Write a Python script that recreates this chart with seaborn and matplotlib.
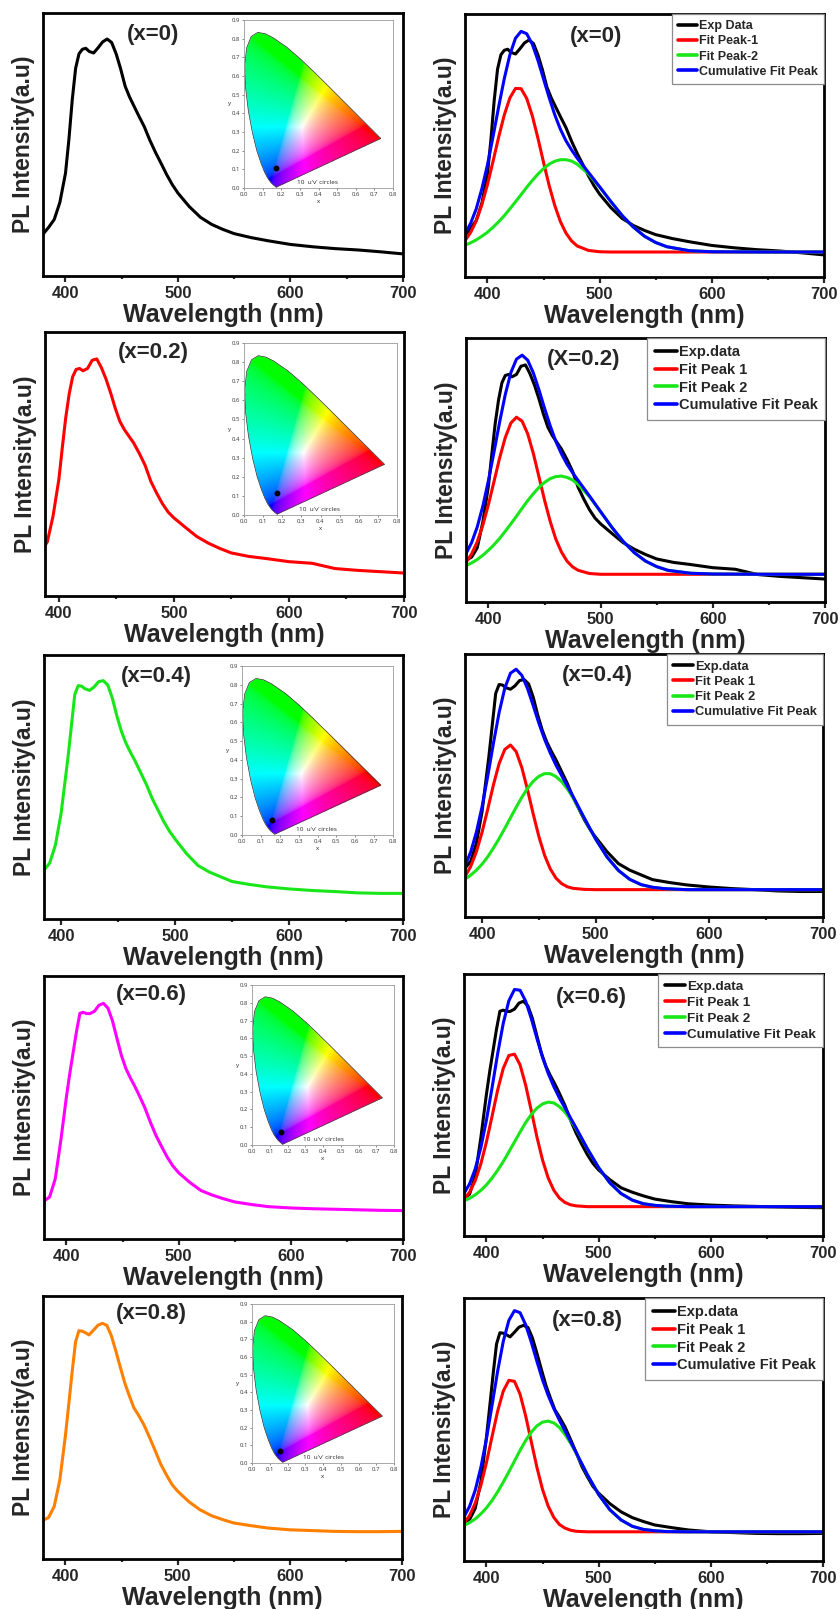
import numpy as np
import matplotlib
matplotlib.use("Agg")
import matplotlib.pyplot as plt
from matplotlib.path import Path
from matplotlib.ticker import MultipleLocator
import seaborn as sns

sns.set_style("white")
plt.rcParams.update({
    "font.family": ["Liberation Sans", "DejaVu Sans"],
    "font.weight": "bold",
    "axes.linewidth": 2.0,
    "axes.edgecolor": "black",
})

# ── data ─────────────────────────────────────────
SAMPLES = ["(x=0)", "(x=0.2)", "(x=0.4)", "(x=0.6)", "(x=0.8)"]
SAMPLES_FIT = ["(x=0)", "(X=0.2)", "(x=0.4)", "(x=0.6)", "(x=0.8)"]
PL_COLORS = ["#000000", "#FF0000", "#19E619", "#FF00FF", "#FF8000"]

LEGEND_FIRST = ["Exp Data", "Fit Peak-1", "Fit Peak-2", "Cumulative Fit Peak"]
LEGEND_REST = ["Exp.data", "Fit Peak 1", "Fit Peak 2", "Cumulative Fit Peak"]

# measured PL spectra (a.u.)
WL_EXP = [380, 385, 390, 395, 400, 403, 406, 409, 412, 415, 418, 421, 425, 429,
          433, 437, 441, 445, 449, 453, 457, 461, 465, 470, 475, 480, 485, 490,
          495, 500, 510, 520, 530, 540, 550, 565, 580, 600, 620, 640, 660, 680, 700]
PL_X0 = [0.159, 0.185, 0.215, 0.280, 0.391, 0.518, 0.670, 0.790, 0.845, 0.862, 0.866,
         0.854, 0.848, 0.868, 0.890, 0.901, 0.888, 0.845, 0.788, 0.722, 0.680, 0.645,
         0.610, 0.568, 0.516, 0.470, 0.428, 0.385, 0.347, 0.315, 0.264, 0.223, 0.196,
         0.177, 0.161, 0.146, 0.134, 0.120, 0.111, 0.104, 0.099, 0.092, 0.084]
PL_X02 = [0.158, 0.170, 0.205, 0.303, 0.440, 0.560, 0.675, 0.765, 0.830, 0.858, 0.862,
          0.853, 0.862, 0.893, 0.898, 0.865, 0.822, 0.770, 0.712, 0.662, 0.630, 0.605,
          0.580, 0.540, 0.495, 0.434, 0.390, 0.350, 0.318, 0.296, 0.260, 0.225, 0.200,
          0.180, 0.163, 0.150, 0.142, 0.130, 0.124, 0.104, 0.097, 0.092, 0.087]
PL_X04 = [0.170, 0.185, 0.212, 0.280, 0.400, 0.505, 0.610, 0.730, 0.850, 0.884, 0.882,
          0.872, 0.866, 0.879, 0.899, 0.903, 0.886, 0.836, 0.768, 0.710, 0.665, 0.630,
          0.598, 0.553, 0.508, 0.456, 0.413, 0.370, 0.333, 0.303, 0.248, 0.203, 0.178,
          0.160, 0.142, 0.131, 0.122, 0.114, 0.108, 0.104, 0.099, 0.097, 0.097]
PL_X06 = [0.144, 0.160, 0.228, 0.375, 0.541, 0.630, 0.710, 0.790, 0.858, 0.862, 0.857,
          0.857, 0.866, 0.889, 0.896, 0.878, 0.830, 0.763, 0.698, 0.648, 0.612, 0.580,
          0.545, 0.498, 0.442, 0.392, 0.350, 0.310, 0.277, 0.252, 0.215, 0.184, 0.167,
          0.153, 0.141, 0.131, 0.123, 0.118, 0.115, 0.113, 0.111, 0.109, 0.108]
PL_X08 = [0.147, 0.158, 0.200, 0.300, 0.470, 0.590, 0.712, 0.825, 0.868, 0.866, 0.860,
          0.852, 0.870, 0.889, 0.896, 0.888, 0.848, 0.790, 0.728, 0.668, 0.620, 0.575,
          0.548, 0.510, 0.462, 0.412, 0.360, 0.320, 0.283, 0.258, 0.218, 0.187, 0.165,
          0.150, 0.137, 0.127, 0.118, 0.111, 0.108, 0.105, 0.104, 0.104, 0.105]
PL_ALL = [PL_X0, PL_X02, PL_X04, PL_X06, PL_X08]

# gaussian fit components
WL_FIT = [380, 385, 390, 395, 400, 405, 410, 415, 420, 425, 430, 435, 440, 445, 450,
          455, 460, 465, 470, 475, 480, 490, 500, 510, 520, 530, 540, 550, 560, 580,
          600, 650, 700]
PEAK1_X0 = [0.138, 0.169, 0.213, 0.275, 0.351, 0.440, 0.532, 0.616, 0.681, 0.717, 0.716,
            0.679, 0.613, 0.528, 0.436, 0.348, 0.272, 0.211, 0.167, 0.137, 0.118, 0.101,
            0.096, 0.095, 0.095, 0.095, 0.095, 0.095, 0.095, 0.095, 0.095, 0.095, 0.095]
PEAK2_X0 = [0.121, 0.130, 0.141, 0.155, 0.170, 0.189, 0.210, 0.233, 0.259, 0.286, 0.313,
            0.341, 0.367, 0.391, 0.412, 0.429, 0.440, 0.446, 0.446, 0.441, 0.429, 0.392,
            0.342, 0.287, 0.234, 0.190, 0.155, 0.131, 0.115, 0.100, 0.096, 0.095, 0.095]
CUM_X0 = [0.164, 0.204, 0.259, 0.335, 0.426, 0.534, 0.647, 0.754, 0.845, 0.908, 0.934,
          0.925, 0.885, 0.824, 0.753, 0.682, 0.617, 0.562, 0.518, 0.483, 0.452, 0.398,
          0.343, 0.287, 0.234, 0.190, 0.155, 0.131, 0.115, 0.100, 0.096, 0.095, 0.095]

PEAK1_X02 = [0.150, 0.182, 0.228, 0.291, 0.369, 0.457, 0.546, 0.623, 0.678, 0.700, 0.685,
             0.637, 0.563, 0.475, 0.386, 0.306, 0.239, 0.190, 0.155, 0.133, 0.120, 0.108,
             0.105, 0.105, 0.105, 0.105, 0.105, 0.105, 0.105, 0.105, 0.105, 0.105, 0.105]
PEAK2_X02 = [0.138, 0.148, 0.161, 0.177, 0.196, 0.217, 0.241, 0.268, 0.296, 0.325, 0.355,
             0.384, 0.410, 0.434, 0.453, 0.467, 0.475, 0.477, 0.472, 0.462, 0.445, 0.399,
             0.342, 0.283, 0.230, 0.187, 0.155, 0.134, 0.120, 0.109, 0.106, 0.105, 0.105]
CUM_X02 = [0.183, 0.225, 0.284, 0.363, 0.460, 0.569, 0.682, 0.786, 0.869, 0.920, 0.935,
           0.916, 0.868, 0.804, 0.734, 0.668, 0.609, 0.562, 0.522, 0.490, 0.460, 0.402,
           0.342, 0.283, 0.230, 0.187, 0.155, 0.134, 0.120, 0.109, 0.106, 0.105, 0.105]

PEAK1_X04 = [0.130, 0.154, 0.192, 0.248, 0.322, 0.410, 0.502, 0.583, 0.637, 0.654, 0.629,
             0.568, 0.484, 0.392, 0.306, 0.235, 0.183, 0.148, 0.127, 0.115, 0.109, 0.105,
             0.104, 0.104, 0.104, 0.104, 0.104, 0.104, 0.104, 0.104, 0.104, 0.104, 0.104]
PEAK2_X04 = [0.132, 0.144, 0.159, 0.178, 0.201, 0.229, 0.262, 0.298, 0.337, 0.377, 0.417,
             0.455, 0.489, 0.516, 0.535, 0.545, 0.545, 0.534, 0.515, 0.487, 0.454, 0.375,
             0.296, 0.228, 0.177, 0.143, 0.123, 0.113, 0.108, 0.104, 0.104, 0.104, 0.104]
CUM_X04 = [0.158, 0.194, 0.247, 0.322, 0.419, 0.535, 0.660, 0.777, 0.870, 0.927, 0.942,
           0.919, 0.869, 0.804, 0.737, 0.676, 0.624, 0.578, 0.538, 0.498, 0.459, 0.376,
           0.296, 0.228, 0.177, 0.143, 0.123, 0.113, 0.108, 0.104, 0.104, 0.104, 0.104]

PEAK1_X06 = [0.141, 0.167, 0.211, 0.275, 0.359, 0.457, 0.557, 0.640, 0.689, 0.694, 0.653,
             0.575, 0.478, 0.378, 0.290, 0.222, 0.175, 0.145, 0.128, 0.119, 0.115, 0.112,
             0.112, 0.112, 0.112, 0.112, 0.112, 0.112, 0.112, 0.112, 0.112, 0.112, 0.112]
PEAK2_X06 = [0.134, 0.144, 0.157, 0.174, 0.195, 0.221, 0.251, 0.284, 0.321, 0.359, 0.397,
             0.433, 0.464, 0.488, 0.504, 0.511, 0.508, 0.494, 0.473, 0.443, 0.409, 0.333,
             0.261, 0.203, 0.162, 0.137, 0.123, 0.117, 0.114, 0.112, 0.112, 0.112, 0.112]
CUM_X06 = [0.163, 0.199, 0.256, 0.337, 0.442, 0.566, 0.696, 0.812, 0.898, 0.941, 0.938,
           0.896, 0.830, 0.754, 0.682, 0.621, 0.571, 0.527, 0.489, 0.450, 0.412, 0.333,
           0.261, 0.203, 0.162, 0.137, 0.123, 0.117, 0.114, 0.112, 0.112, 0.112, 0.112]

PEAK1_X08 = [0.144, 0.173, 0.220, 0.287, 0.374, 0.473, 0.570, 0.646, 0.687, 0.683, 0.634,
             0.551, 0.453, 0.356, 0.272, 0.209, 0.166, 0.139, 0.125, 0.117, 0.113, 0.111,
             0.111, 0.111, 0.111, 0.111, 0.111, 0.111, 0.111, 0.111, 0.111, 0.111, 0.111]
PEAK2_X08 = [0.135, 0.146, 0.160, 0.179, 0.202, 0.230, 0.263, 0.300, 0.339, 0.380, 0.421,
             0.458, 0.490, 0.514, 0.528, 0.532, 0.525, 0.508, 0.481, 0.448, 0.410, 0.328,
             0.253, 0.195, 0.156, 0.132, 0.120, 0.115, 0.112, 0.111, 0.111, 0.111, 0.111]
CUM_X08 = [0.168, 0.208, 0.269, 0.355, 0.465, 0.592, 0.722, 0.835, 0.915, 0.952, 0.944,
           0.898, 0.832, 0.759, 0.689, 0.630, 0.580, 0.536, 0.495, 0.454, 0.412, 0.328,
           0.253, 0.195, 0.156, 0.132, 0.120, 0.115, 0.112, 0.111, 0.111, 0.111, 0.111]

PEAK1_ALL = [PEAK1_X0, PEAK1_X02, PEAK1_X04, PEAK1_X06, PEAK1_X08]
PEAK2_ALL = [PEAK2_X0, PEAK2_X02, PEAK2_X04, PEAK2_X06, PEAK2_X08]
CUM_ALL = [CUM_X0, CUM_X02, CUM_X04, CUM_X06, CUM_X08]

# CIE 1931 coordinates of each sample
CIE_X = [0.171, 0.173, 0.159, 0.161, 0.156]
CIE_Y = [0.107, 0.117, 0.080, 0.073, 0.066]

# CIE 1931 spectral locus (380 -> 700 nm)
LOCUS_X = [0.1741, 0.1733, 0.1714, 0.1689, 0.1644, 0.1566, 0.1440, 0.1241, 0.1096,
           0.0913, 0.0687, 0.0454, 0.0235, 0.0082, 0.0039, 0.0139, 0.0389, 0.0743,
           0.1142, 0.1547, 0.2296, 0.3016, 0.3731, 0.4441, 0.5125, 0.5752, 0.6270,
           0.6658, 0.6915, 0.7079, 0.7190, 0.7260, 0.7300, 0.7334, 0.7347]
LOCUS_Y = [0.0050, 0.0048, 0.0051, 0.0069, 0.0109, 0.0177, 0.0297, 0.0578, 0.0868,
           0.1327, 0.2007, 0.2950, 0.4127, 0.5384, 0.6548, 0.7502, 0.8120, 0.8338,
           0.8262, 0.8059, 0.7543, 0.6923, 0.6245, 0.5547, 0.4866, 0.4242, 0.3725,
           0.3340, 0.3083, 0.2920, 0.2809, 0.2740, 0.2700, 0.2666, 0.2653]

# ── layout (pixels in an 840 x 1609 canvas) ──────
W, H = 840, 1609
LEFT_BOX = [(43, 13, 403, 276), (45, 332, 404, 596), (44, 655, 403, 919),
            (44, 976, 403, 1239), (43, 1296, 402, 1559)]
RIGHT_BOX = [(465, 14, 824, 277), (466, 338, 825, 602), (465, 654, 823, 917),
             (464, 974, 823, 1236), (464, 1298, 823, 1561)]
INSET_BOX = [(244, 20, 393, 188), (244, 343, 397, 515), (242, 666, 393, 835),
             (252, 985, 394, 1145), (252, 1304, 394, 1463)]
LEFT_XMIN = [380, 388, 385, 380, 380]
RIGHT_XMIN = [380, 380, 385, 380, 380]
LEFT_TAG = [(0.306, 0.92), (0.302, 0.924), (0.312, 0.917), (0.298, 0.928), (0.301, 0.935)]
RIGHT_TAG = [(0.365, 0.916), (0.329, 0.92), (0.369, 0.92), (0.354, 0.912), (0.343, 0.916)]
LEGEND_SIZE = [9.0, 10.5, 9.3, 9.7, 10.5]
LW = 2.2


def px_rect(box):
    l, t, r, b = box
    return [l / W, 1 - b / H, (r - l) / W, (b - t) / H]


def style_spectrum_axes(ax, xmin):
    ax.set_xlim(xmin, 700)
    ax.set_ylim(0, 1)
    ax.set_yticks([])
    ax.xaxis.set_major_locator(MultipleLocator(100))
    ax.xaxis.set_minor_locator(MultipleLocator(50))
    ax.tick_params(axis="x", which="major", direction="out", length=4, width=1.6,
                   pad=3.5, labelsize=12, bottom=True)
    ax.tick_params(axis="x", which="minor", direction="out", length=2.5, width=1.6,
                   bottom=True)
    for lab in ax.get_xticklabels():
        lab.set_fontweight("bold")
    for sp in ax.spines.values():
        sp.set_linewidth(2.0)
        sp.set_color("black")
    ax.set_xlabel("Wavelength (nm)", fontsize=18, fontweight="bold", labelpad=1)
    ax.set_ylabel("PL Intensity(a.u)", fontsize=16.5, fontweight="bold", labelpad=6)


def cie_rgba(nx=320, ny=360):
    xs = np.linspace(0.0, 0.8, nx)
    ys = np.linspace(0.002, 0.9, ny)
    gx, gy = np.meshgrid(xs, ys)
    X = gx / gy
    Z = (1 - gx - gy) / gy
    r = 3.2406 * X - 1.5372 - 0.4986 * Z
    g = -0.9689 * X + 1.8758 + 0.0415 * Z
    b = 0.0557 * X - 0.2040 + 1.0570 * Z
    rgb = np.clip(np.dstack([r, g, b]), 0, None)
    rgb = rgb / (rgb.max(axis=2, keepdims=True) + 1e-9)
    rgb = rgb ** (1 / 2.2)
    locus = Path(np.column_stack([LOCUS_X, LOCUS_Y]))
    inside = locus.contains_points(np.column_stack([gx.ravel(), gy.ravel()]))
    alpha = inside.reshape(gx.shape).astype(float)
    return np.dstack([rgb, alpha])


def draw_cie(ax, px, py, rgba):
    ax.set_facecolor("white")
    ax.imshow(rgba, extent=[0.0, 0.8, 0.002, 0.9], origin="lower",
              aspect="auto", interpolation="bilinear", zorder=1)
    ax.plot(LOCUS_X + [LOCUS_X[0]], LOCUS_Y + [LOCUS_Y[0]], color="#333333",
            linewidth=0.5, zorder=2)
    ax.plot([px], [py], "o", color="black", markersize=3.2, zorder=3)
    ax.text(0.285, 0.03, "10  u'v' circles", fontsize=4.6, fontweight="normal",
            color="#222222", va="center", ha="left", zorder=3,
            family=["Open Sans", "DejaVu Sans"])
    ax.set_xlim(0, 0.8)
    ax.set_ylim(0, 0.9)
    ax.set_xticks(np.round(np.arange(0, 0.81, 0.1), 1))
    ax.set_yticks(np.round(np.arange(0, 0.91, 0.1), 1))
    ax.xaxis.set_major_formatter(matplotlib.ticker.FormatStrFormatter("%.1f"))
    ax.yaxis.set_major_formatter(matplotlib.ticker.FormatStrFormatter("%.1f"))
    ax.tick_params(direction="out", length=1.5, width=0.4, pad=1.5, labelsize=4.3,
                   colors="#333333", left=True, bottom=True)
    for lab in ax.get_xticklabels() + ax.get_yticklabels():
        lab.set_fontweight("normal")
        lab.set_family(["Open Sans", "DejaVu Sans"])
    for sp in ax.spines.values():
        sp.set_linewidth(0.6)
        sp.set_color("#9a9a9a")
    ax.set_xlabel("x", fontsize=4.6, fontweight="normal", labelpad=1.5, color="#333333")
    ax.set_ylabel("y", fontsize=4.6, fontweight="normal", labelpad=1.5, color="#333333",
                  rotation=0, va="center")


fig = plt.figure(figsize=(W / 100, H / 100), dpi=100)
fig.patch.set_facecolor("white")
rgba = cie_rgba()

for i in range(5):
    # left: measured spectrum + CIE inset
    ax = fig.add_axes(px_rect(LEFT_BOX[i]))
    sns.lineplot(x=WL_EXP, y=PL_ALL[i], ax=ax, color=PL_COLORS[i], linewidth=LW,
                 estimator=None, sort=False)
    style_spectrum_axes(ax, LEFT_XMIN[i])
    ax.text(LEFT_TAG[i][0], LEFT_TAG[i][1], SAMPLES[i], transform=ax.transAxes,
            fontsize=16, fontweight="bold", ha="center", va="center")

    axi = fig.add_axes(px_rect(INSET_BOX[i]))
    draw_cie(axi, CIE_X[i], CIE_Y[i], rgba)

    # right: gaussian deconvolution
    axr = fig.add_axes(px_rect(RIGHT_BOX[i]))
    names = LEGEND_FIRST if i == 0 else LEGEND_REST
    sns.lineplot(x=WL_EXP, y=PL_ALL[i], ax=axr, color="black", linewidth=LW,
                 estimator=None, sort=False, label=names[0])
    sns.lineplot(x=WL_FIT, y=PEAK1_ALL[i], ax=axr, color="#FF0000", linewidth=LW,
                 estimator=None, sort=False, label=names[1])
    sns.lineplot(x=WL_FIT, y=PEAK2_ALL[i], ax=axr, color="#19E619", linewidth=LW,
                 estimator=None, sort=False, label=names[2])
    sns.lineplot(x=WL_FIT, y=CUM_ALL[i], ax=axr, color="#0000FF", linewidth=LW,
                 estimator=None, sort=False, label=names[3])
    style_spectrum_axes(axr, RIGHT_XMIN[i])
    axr.text(RIGHT_TAG[i][0], RIGHT_TAG[i][1], SAMPLES_FIT[i], transform=axr.transAxes,
             fontsize=16, fontweight="bold", ha="center", va="center")
    leg = axr.legend(loc="upper right", borderaxespad=0.0, fancybox=False,
                     edgecolor="#8c8c8c", framealpha=1.0, handlelength=1.5,
                     handletextpad=0.15, labelspacing=0.25, borderpad=0.5,
                     prop={"weight": "bold", "size": LEGEND_SIZE[i]})
    leg.get_frame().set_linewidth(0.9)
    for h in leg.get_lines():
        h.set_linewidth(2.6)

fig.savefig("out.png", dpi=100, facecolor="white")
